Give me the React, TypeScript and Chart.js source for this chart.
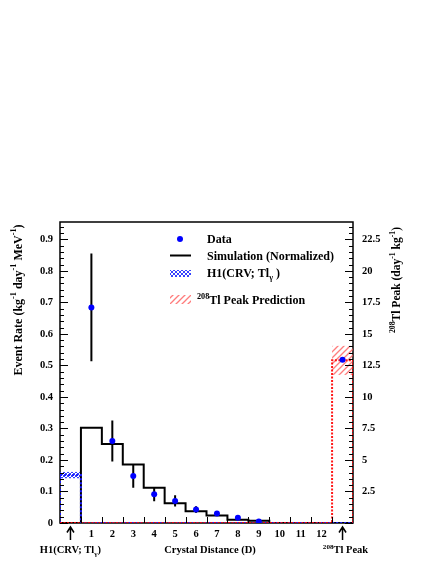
import React, { useEffect, useRef } from 'react';
import { Chart, registerables } from 'chart.js';

Chart.register(...registerables);

// ---------------- data ----------------
const binCenters = [0, 1, 2, 3, 4, 5, 6, 7, 8, 9, 10, 11, 12, 13];
const simValues = [0, 0.302, 0.251, 0.186, 0.112, 0.0625, 0.037, 0.024, 0.0106, 0.0074, 0, 0, 0, 0];
const h1Values = [0.152, 0, 0, 0, 0, 0, 0, 0, 0, 0, 0, 0, 0, 0];
const h1BandLow = 0.142;
const h1BandHigh = 0.162;
const tlPeakValues = [0, 0, 0, 0, 0, 0, 0, 0, 0, 0, 0, 0, 0, 12.9]; // right axis units
const tlBandLow = 11.75;
const tlBandHigh = 14.05;
const dataX = [1, 2, 3, 4, 5, 6, 7, 8, 9];
const dataY = [0.684, 0.26, 0.149, 0.091, 0.07, 0.043, 0.03, 0.017, 0.005];
const dataErr = [0.171, 0.065, 0.037, 0.022, 0.018, 0.0105, 0.005, 0.003, 0.002];
const tlDataX = [13];
const tlDataY = [12.95];
const leftTickValues = [0, 0.1, 0.2, 0.3, 0.4, 0.5, 0.6, 0.7, 0.8, 0.9];
const rightTickValues = [2.5, 5, 7.5, 10, 12.5, 15, 17.5, 20, 22.5];
const xTickValues = [1, 2, 3, 4, 5, 6, 7, 8, 9, 10, 11, 12];
const yMax = 0.955;
const rightScaleFactor = 25;

const FONT = '"Liberation Serif", "Times New Roman", serif';

type Seg = { t: string; s?: 'sup' | 'sub' };

function segFont(size: number, s?: string) {
  const sz = s ? Math.round(size * 0.68 * 10) / 10 : size;
  return `bold ${sz}px ${FONT}`;
}

function richWidth(ctx: CanvasRenderingContext2D, segs: Seg[], size: number) {
  let w = 0;
  for (const sg of segs) {
    ctx.font = segFont(size, sg.s);
    w += ctx.measureText(sg.t).width;
  }
  return w;
}

function drawRich(
  ctx: CanvasRenderingContext2D,
  segs: Seg[],
  x: number,
  y: number,
  size: number,
  align: 'left' | 'center'
) {
  const w = richWidth(ctx, segs, size);
  let cx = align === 'center' ? x - w / 2 : x;
  ctx.textAlign = 'left';
  ctx.textBaseline = 'alphabetic';
  ctx.fillStyle = '#000';
  for (const sg of segs) {
    ctx.font = segFont(size, sg.s);
    const dy = sg.s === 'sup' ? -size * 0.42 : sg.s === 'sub' ? size * 0.25 : 0;
    ctx.fillText(sg.t, cx, y + dy);
    cx += ctx.measureText(sg.t).width;
  }
}

// step-histogram outline built from bin values (bins centred on binCenters, width 1)
function histPoints(values: number[]) {
  const lo = binCenters[0] - 0.5;
  const hi = binCenters[binCenters.length - 1] + 0.5;
  const pts = [{ x: lo, y: 0 }];
  values.forEach((v, i) => pts.push({ x: binCenters[i] - 0.5, y: v }));
  pts.push({ x: hi, y: 0 });
  return pts;
}

function makeBluePattern(ctx: CanvasRenderingContext2D) {
  const c = document.createElement('canvas');
  c.width = 4;
  c.height = 4;
  const g = c.getContext('2d')!;
  g.strokeStyle = 'rgba(30,45,255,0.9)';
  g.lineWidth = 1;
  g.beginPath();
  g.moveTo(0, 0);
  g.lineTo(4, 4);
  g.moveTo(4, 0);
  g.lineTo(0, 4);
  g.stroke();
  return ctx.createPattern(c, 'repeat')!;
}

function makePinkPattern(ctx: CanvasRenderingContext2D) {
  const c = document.createElement('canvas');
  c.width = 6;
  c.height = 6;
  const g = c.getContext('2d')!;
  g.strokeStyle = 'rgba(255,80,80,0.75)';
  g.lineWidth = 1.3;
  g.beginPath();
  g.moveTo(0, 6);
  g.lineTo(6, 0);
  g.moveTo(-3, 3);
  g.lineTo(3, -3);
  g.moveTo(3, 9);
  g.lineTo(9, 3);
  g.stroke();
  return ctx.createPattern(c, 'repeat')!;
}

export default function App() {
  const ref = useRef<HTMLCanvasElement>(null);

  useEffect(() => {
    document.body.style.margin = '0';
    const canvas = ref.current!;
    const ctx0 = canvas.getContext('2d')!;
    const bluePat = makeBluePattern(ctx0);
    const pinkPat = makePinkPattern(ctx0);

    const decorPlugin = {
      id: 'decor',
      beforeDatasetsDraw(chart: any) {
        const { ctx, chartArea: a } = chart;
        ctx.save();
        ctx.strokeStyle = '#000';
        ctx.lineWidth = 1.5;
        ctx.strokeRect(a.left, a.top, a.right - a.left, a.bottom - a.top);
        ctx.restore();
      },
      beforeDatasetDraw(chart: any, args: any) {
        if (args.index !== 0) return;
        const { ctx } = chart;
        const xs = chart.scales.x;
        const ys = chart.scales.y;
        ctx.save();
        ctx.strokeStyle = '#000';
        ctx.lineWidth = 2;
        ctx.beginPath();
        dataX.forEach((xv, i) => {
          const px = xs.getPixelForValue(xv);
          ctx.moveTo(px, ys.getPixelForValue(dataY[i] - dataErr[i]));
          ctx.lineTo(px, ys.getPixelForValue(dataY[i] + dataErr[i]));
        });
        ctx.stroke();
        ctx.restore();
      },
      afterDraw(chart: any) {
        const { ctx, chartArea: a } = chart;
        const xs = chart.scales.x;
        const ys = chart.scales.y;
        const y2 = chart.scales.y2;
        ctx.save();
        ctx.strokeStyle = '#000';
        ctx.lineWidth = 1;
        ctx.beginPath();
        // left ticks
        for (let k = 0; k * 0.02 <= yMax; k++) {
          const p = Math.round(ys.getPixelForValue(k * 0.02)) + 0.5;
          const len = k % 5 === 0 ? 8 : 4;
          ctx.moveTo(a.left, p);
          ctx.lineTo(a.left + len, p);
        }
        // right ticks
        for (let k = 0; k * 0.5 <= yMax * rightScaleFactor; k++) {
          const p = Math.round(y2.getPixelForValue(k * 0.5)) + 0.5;
          const len = k % 5 === 0 ? 8 : 4;
          ctx.moveTo(a.right, p);
          ctx.lineTo(a.right - len, p);
        }
        // x ticks at bin edges
        for (let k = 0; k < 13; k++) {
          const p = Math.round(xs.getPixelForValue(k + 0.5)) + 0.5;
          ctx.moveTo(p, a.bottom);
          ctx.lineTo(p, a.bottom - 6);
        }
        ctx.stroke();

        // arrows
        ctx.lineWidth = 1.5;
        [0, 13].forEach((v) => {
          const px = xs.getPixelForValue(v);
          ctx.beginPath();
          ctx.moveTo(px, 540);
          ctx.lineTo(px, 527);
          ctx.moveTo(px - 3.5, 532.5);
          ctx.lineTo(px, 527);
          ctx.lineTo(px + 3.5, 532.5);
          ctx.stroke();
        });

        // bottom texts
        drawRich(ctx, [{ t: 'Crystal Distance (D)' }], 210, 553, 10.5, 'center');
        drawRich(
          ctx,
          [{ t: 'H1(CRV; Tl' }, { t: 'γ', s: 'sub' }, { t: ')' }],
          xs.getPixelForValue(0),
          553,
          10.5,
          'center'
        );
        drawRich(
          ctx,
          [{ t: '208', s: 'sup' }, { t: 'Tl Peak' }],
          xs.getPixelForValue(13) + 3,
          553,
          10.5,
          'center'
        );

        // left title
        ctx.save();
        ctx.translate(21.5, 300);
        ctx.rotate(-Math.PI / 2);
        drawRich(
          ctx,
          [
            { t: 'Event Rate (kg' },
            { t: '-1', s: 'sup' },
            { t: ' day' },
            { t: '-1', s: 'sup' },
            { t: ' MeV' },
            { t: '-1', s: 'sup' },
            { t: ')' },
          ],
          0,
          0,
          12,
          'center'
        );
        ctx.restore();

        // right title
        ctx.save();
        ctx.translate(400, 280);
        ctx.rotate(-Math.PI / 2);
        drawRich(
          ctx,
          [
            { t: '208', s: 'sup' },
            { t: 'Tl Peak (day' },
            { t: '-1', s: 'sup' },
            { t: ' kg' },
            { t: '-1', s: 'sup' },
            { t: ')' },
          ],
          0,
          0,
          11.5,
          'center'
        );
        ctx.restore();

        // legend
        ctx.fillStyle = '#0000ff';
        ctx.beginPath();
        ctx.arc(180, 239, 3, 0, Math.PI * 2);
        ctx.fill();
        drawRich(ctx, [{ t: 'Data' }], 207, 243, 12, 'left');

        ctx.strokeStyle = '#000';
        ctx.lineWidth = 2;
        ctx.beginPath();
        ctx.moveTo(170, 255.5);
        ctx.lineTo(191, 255.5);
        ctx.stroke();
        drawRich(ctx, [{ t: 'Simulation (Normalized)' }], 207, 260, 12, 'left');

        ctx.fillStyle = bluePat;
        ctx.fillRect(170, 270, 21, 7);
        drawRich(
          ctx,
          [{ t: 'H1(CRV; Tl' }, { t: 'γ', s: 'sub' }, { t: ' )' }],
          207,
          277,
          12,
          'left'
        );

        ctx.fillStyle = pinkPat;
        ctx.fillRect(170, 295, 21, 9);
        drawRich(ctx, [{ t: '208', s: 'sup' }, { t: 'Tl Peak Prediction' }], 197, 304, 12, 'left');

        ctx.restore();
      },
    };

    const lineBase = {
      type: 'line' as const,
      pointRadius: 0,
      pointHoverRadius: 0,
      fill: false,
    };

    const chart = new Chart(canvas, {
      type: 'line',
      data: {
        datasets: [
          {
            type: 'line',
            data: dataX.map((x, i) => ({ x, y: dataY[i] })),
            showLine: false,
            pointRadius: 3,
            pointBackgroundColor: '#0000ff',
            pointBorderWidth: 0,
            yAxisID: 'y',
          },
          {
            type: 'line',
            data: tlDataX.map((x, i) => ({ x, y: tlDataY[i] })),
            showLine: false,
            pointRadius: 3,
            pointBackgroundColor: '#0000ff',
            pointBorderWidth: 0,
            yAxisID: 'y2',
          },
          {
            ...lineBase,
            data: histPoints(tlPeakValues),
            stepped: true,
            borderColor: 'rgba(255,0,0,0.9)',
            borderWidth: 2,
            borderDash: [2, 1.5],
            yAxisID: 'y2',
          },
          {
            ...lineBase,
            data: histPoints(h1Values),
            stepped: true,
            borderColor: '#1a1aff',
            borderWidth: 2,
            borderDash: [2, 2],
            yAxisID: 'y',
          },
          {
            ...lineBase,
            data: histPoints(simValues),
            stepped: true,
            borderColor: '#000',
            borderWidth: 2,
            yAxisID: 'y',
          },
          {
            ...lineBase,
            data: [
              { x: -0.5, y: h1BandHigh },
              { x: 0.5, y: h1BandHigh },
            ],
            borderWidth: 0,
            yAxisID: 'y',
          },
          {
            ...lineBase,
            data: [
              { x: -0.5, y: h1BandLow },
              { x: 0.5, y: h1BandLow },
            ],
            borderWidth: 0,
            fill: '-1',
            backgroundColor: bluePat,
            yAxisID: 'y',
          },
          {
            ...lineBase,
            data: [
              { x: 12.5, y: tlBandHigh },
              { x: 13.5, y: tlBandHigh },
            ],
            borderWidth: 0,
            yAxisID: 'y2',
          },
          {
            ...lineBase,
            data: [
              { x: 12.5, y: tlBandLow },
              { x: 13.5, y: tlBandLow },
            ],
            borderWidth: 0,
            fill: '-1',
            backgroundColor: pinkPat,
            yAxisID: 'y2',
          },
        ] as any,
      },
      options: {
        animation: false,
        responsive: false,
        maintainAspectRatio: false,
        layout: { padding: { top: 222, left: 0, right: 0, bottom: 0 } },
        plugins: {
          legend: { display: false },
          tooltip: { enabled: false },
        },
        events: [],
        scales: {
          x: {
            type: 'linear',
            min: -0.5,
            max: 13.5,
            grid: { display: false, drawTicks: false },
            border: { display: false },
            afterBuildTicks: (s: any) => {
              s.ticks = xTickValues.map((v) => ({ value: v }));
            },
            afterFit: (s: any) => {
              s.height = 41;
            },
            ticks: {
              autoSkip: false,
              maxRotation: 0,
              padding: 5,
              color: '#000',
              font: { family: FONT, size: 10.5, weight: 'bold' },
              callback: (v: any) => String(v),
            },
          },
          y: {
            type: 'linear',
            position: 'left',
            min: 0,
            max: yMax,
            grid: { display: false, drawTicks: false },
            border: { display: false },
            afterBuildTicks: (s: any) => {
              s.ticks = leftTickValues.map((v) => ({ value: v }));
            },
            afterFit: (s: any) => {
              s.width = 60;
            },
            ticks: {
              autoSkip: false,
              padding: 7,
              color: '#000',
              font: { family: FONT, size: 10.5, weight: 'bold' },
              callback: (v: any) => String(Math.round(Number(v) * 10) / 10),
            },
          },
          y2: {
            type: 'linear',
            position: 'right',
            min: 0,
            max: yMax * rightScaleFactor,
            grid: { display: false, drawTicks: false },
            border: { display: false },
            afterBuildTicks: (s: any) => {
              s.ticks = rightTickValues.map((v) => ({ value: v }));
            },
            afterFit: (s: any) => {
              s.width = 83;
            },
            ticks: {
              autoSkip: false,
              padding: 9,
              color: '#000',
              font: { family: FONT, size: 10.5, weight: 'bold' },
              callback: (v: any) => String(v),
            },
          },
        },
      } as any,
      plugins: [decorPlugin],
    });

    return () => chart.destroy();
  }, []);

  return (
    <canvas
      ref={ref}
      width={436}
      height={564}
      style={{ display: 'block', width: 436, height: 564 }}
    />
  );
}
